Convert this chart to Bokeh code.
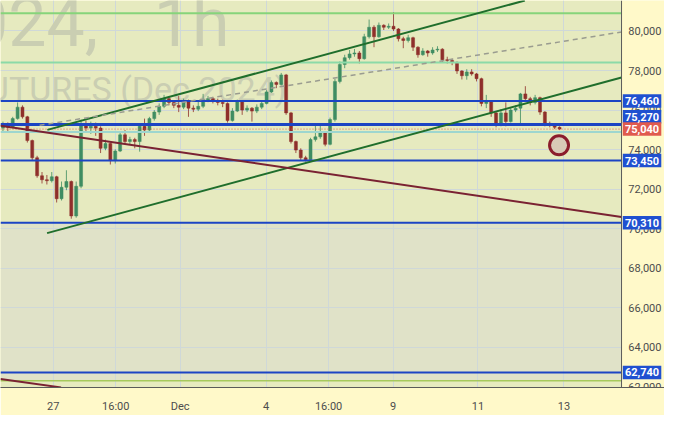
from bokeh.plotting import figure
from bokeh.models import Range1d, FixedTicker, BoxAnnotation
from bokeh.core.properties import value
from bokeh.embed import file_html
from bokeh.resources import INLINE

# ---------------- data ----------------
opens = [75090, 75280, 75130, 75570, 76150, 75660, 74460, 73590, 72680, 72480,
         72430, 72630, 71520, 72100, 72390, 70650, 72150, 75280, 75090, 75180,
         75090, 74070, 74310, 73450, 73930, 74750, 74410, 74510, 74410, 75180,
         74990, 75570, 75900, 76190, 76580, 76390, 76240, 76150, 76430, 76100,
         76050, 76190, 76530, 76580, 76480, 76390, 76340, 75470, 75950, 76430,
         76000, 76100, 75950, 76150, 76340, 76920, 77400, 77300, 77780, 75860,
         74410, 73980, 73590, 73490, 74510, 74650, 74840, 74270, 75520, 77450,
         78310, 78650, 78840, 78890, 78600, 79710, 80190, 79710, 80290, 80190,
         80240, 80100, 79610, 79520, 79660, 79180, 78800, 78990, 78890, 79040,
         79080, 78550, 78510, 78410, 77980, 77740, 77930, 77830, 77590, 76340,
         76430, 75860, 75230, 75860, 75420, 76000, 76100, 76820, 76580, 76390,
         76630, 75900, 75330, 75230, 75130]
closes = [75280, 75130, 75570, 76150, 75660, 74460, 73590, 72680, 72480, 72430,
          72630, 71520, 72100, 72390, 70650, 72150, 75280, 75090, 75180, 75090,
          74070, 74310, 73450, 73930, 74750, 74410, 74510, 74410, 75180, 74990,
          75570, 75900, 76190, 76580, 76390, 76240, 76150, 76430, 76100, 76050,
          76190, 76530, 76580, 76480, 76390, 76340, 75470, 75950, 76430, 76000,
          76100, 75950, 76150, 76340, 76920, 77400, 77300, 77780, 75860, 74410,
          73980, 73590, 73490, 74510, 74650, 74840, 74270, 75520, 77450, 78310,
          78650, 78840, 78890, 78600, 79710, 80190, 79710, 80290, 80190, 80240,
          80100, 79610, 79520, 79660, 79180, 78800, 78990, 78890, 79040, 79080,
          78550, 78510, 78410, 77980, 77740, 77930, 77830, 77590, 76340, 76430,
          75860, 75230, 75860, 75420, 76000, 76100, 76820, 76580, 76390, 76630,
          75900, 75330, 75230, 75130, 75040]
highs = [75420, 75380, 75660, 76390, 76240, 75710, 74510, 73690, 72870, 72720,
         72870, 72680, 72390, 72960, 72440, 72390, 75520, 75470, 75420, 75370,
         75180, 74510, 74360, 74020, 74890, 74990, 74650, 74600, 75280, 75570,
         75660, 76000, 76340, 76770, 76680, 76480, 76720, 76580, 76530, 76240,
         76430, 76820, 76720, 76670, 76580, 76530, 76390, 76100, 76530, 76480,
         76240, 76150, 76290, 76480, 77010, 77500, 77450, 77880, 77830, 75910,
         74460, 74070, 73690, 74600, 75280, 75280, 74940, 75620, 77590, 78460,
         78800, 79040, 79090, 78990, 79860, 80580, 80290, 80430, 80340, 80380,
         80960, 80150, 79710, 79810, 79710, 79230, 79130, 79040, 79180, 79230,
         79130, 78700, 78600, 78460, 78020, 78070, 78070, 77880, 77640, 76770,
         76480, 75910, 76050, 76390, 76150, 76240, 76870, 77210, 76670, 76770,
         76680, 75950, 75420, 75280, 75180]
lows = [74940, 74940, 75080, 75520, 75570, 74360, 73450, 72580, 72290, 72240,
        72340, 71330, 71430, 71950, 70510, 70560, 72050, 74890, 74800, 74700,
        73830, 73970, 73250, 73300, 73880, 74310, 74270, 74070, 73900, 74700,
        74890, 75470, 75760, 76100, 76240, 76100, 75900, 76050, 75660, 75900,
        75950, 76100, 76400, 76340, 76240, 76150, 75370, 75420, 75900, 75760,
        75900, 75420, 75850, 76050, 76290, 76870, 77110, 77250, 75760, 74310,
        73830, 73450, 73400, 73450, 74410, 74550, 74170, 74220, 75420, 77350,
        78120, 78550, 78700, 78360, 78550, 79620, 79180, 79660, 80050, 80100,
        80000, 79470, 79130, 79420, 78990, 78650, 78750, 78700, 78800, 78940,
        78410, 78360, 78270, 77830, 77550, 77540, 77740, 77450, 76190, 76100,
        75660, 75130, 75180, 75180, 75370, 75900, 75280, 76480, 76240, 76290,
        75760, 75180, 75130, 75040, 74990]

time_tick_pos = [10.8, 23.6, 36.8, 54.4, 67.2, 80.4, 97.8, 115.4]
time_tick_labels = ["27", "16:00", "Dec", "4", "16:00", "9", "11", "13"]
price_ticks = [62000, 64000, 66000, 68000, 70000, 72000, 74000, 76000, 78000, 80000]

blue_levels = [76460, 75270, 73450, 70310, 62740]
green_levels = [80900, 78410]
lime_level = 62320
cyan_level = 74890
last_price = 75040

# price tags shown on the scale (value, kind)
tag_values = [76460, 75270, 75040, 73450, 70310, 62740]
tag_kinds = ["level", "level", "last", "level", "level", "level"]

# trend lines: (x0, x1), (price0, price1)
channel_upper_x = [9.6, 107.4]
channel_upper_y = [75000, 81540]
channel_lower_x = [9.54, 127.2]
channel_lower_y = [69780, 77650]
median_x = [8.0, 127.2]
median_y = [75230, 79950]
down_x = [0.0, 127.2]
down_y = [75210, 70600]
down2_x = [0.0, 12.4]
down2_y = [62410, 61980]

target_x = [114.4]
target_y = [74220]

# ---------------- layout constants ----------------
X_MIN, X_PLOT, X_ALL = 0.0, 127.2, 136.0     # chart pane ends at X_PLOT, price scale beyond
Y_MIN, Y_MAX = 61976, 81542
AXIS_BG = "#fff9c9"
PANE_BG = "#e6eabf"
FONT = "Roboto"

p = figure(width=664, height=415, output_backend="svg", toolbar_location=None,
           x_range=Range1d(X_MIN, X_ALL), y_range=Range1d(Y_MIN, Y_MAX),
           y_axis_location=None,
           min_border_left=0, min_border_top=0, min_border_right=0, min_border_bottom=24,
           background_fill_color=AXIS_BG, border_fill_color=AXIS_BG)
p.outline_line_color = None

# pane backgrounds
p.add_layout(BoxAnnotation(left=X_MIN, right=X_PLOT, fill_color=PANE_BG, fill_alpha=1,
                           line_color=None, level="image"))
p.add_layout(BoxAnnotation(left=X_MIN, right=X_PLOT, bottom=lime_level, top=blue_levels[3],
                           fill_color="#e0e2c8", fill_alpha=1, line_color=None, level="image"))

# grids
p.xgrid.ticker = FixedTicker(ticks=time_tick_pos)
p.ygrid.ticker = FixedTicker(ticks=price_ticks)
p.xgrid.grid_line_color = "#cfd8d8"
p.ygrid.grid_line_color = "#cfd8d8"

# time axis
p.xaxis.ticker = FixedTicker(ticks=time_tick_pos)
p.xaxis.major_label_overrides = {pos: lab for pos, lab in zip(time_tick_pos, time_tick_labels)}
p.xaxis.axis_line_color = "#5a5a5a"
p.xaxis.major_tick_line_color = None
p.xaxis.minor_tick_line_color = None
p.xaxis.major_label_text_font = FONT
p.xaxis.major_label_text_font_size = "11px"
p.xaxis.major_label_text_color = "#4d4d4d"
p.xaxis.major_label_standoff = 6

# watermark
wm_color = "#caceb2"
p.text(x=[20.0], y=[80390], text=["RIZ2024,"], text_font=value(FONT),
       text_font_size="68px", text_color=wm_color, text_align="right", text_baseline="alphabetic")
p.text(x=[31.4], y=[80390], text=["1h"], text_font=value(FONT),
       text_font_size="68px", text_color=wm_color, text_align="left", text_baseline="alphabetic")
p.text(x=[58.6], y=[77060], text=["RTS INDEX FUTURES (Dec 2024)"], text_font=value(FONT),
       text_font_size="34px", text_color=wm_color, text_align="right", text_baseline="alphabetic")

# candles
bar_x = [i + 0.5 for i in range(len(closes))]
up_col, dn_col = "#3f8d62", "#8f2f2b"
cols = [up_col if c >= o else dn_col for o, c in zip(opens, closes)]
p.segment(x0=bar_x, x1=bar_x, y0=lows, y1=highs, line_color=cols, line_width=1, line_alpha=0.8)
p.vbar(x=bar_x, width=0.62, top=[max(o, c) for o, c in zip(opens, closes)],
       bottom=[min(o, c) for o, c in zip(opens, closes)], fill_color=cols, line_color=cols, line_width=0.5)

# horizontal levels
def hline(level, color, width, dash="solid"):
    p.segment(x0=[X_MIN], x1=[X_PLOT], y0=[level], y1=[level], line_color=color,
              line_width=width, line_dash=dash)

for lv in green_levels:
    hline(lv, "#86d47a" if lv == green_levels[0] else "#8bdaa8", 2)
hline(lime_level, "#a6c95c", 1.5)
hline(cyan_level, "#9dd6cf", 2)
for lv in blue_levels:
    hline(lv, "#1c44c4", 3 if lv == blue_levels[1] else 2)
hline(last_price, "#e05a4e", 1, "1 2")

# trend lines
p.line(channel_upper_x, channel_upper_y, line_color="#1f6e2c", line_width=2)
p.line(channel_lower_x, channel_lower_y, line_color="#1f6e2c", line_width=2)
p.line(median_x, median_y, line_color="#9a9c90", line_width=1.5, line_dash="5 4")
p.line(down_x, down_y, line_color="#7a2232", line_width=2)
p.line(down2_x, down2_y, line_color="#7a2232", line_width=2)

# target marker
p.scatter(x=target_x, y=target_y, size=19, marker="circle", fill_color="#d8c9b6",
          line_color="#8b1d2c", line_width=3)

# ---------------- price scale (right) ----------------
p.quad(left=[X_PLOT], right=[X_ALL], bottom=[Y_MIN], top=[Y_MAX], fill_color=AXIS_BG, line_color=None)
p.segment(x0=[X_PLOT], x1=[X_PLOT], y0=[Y_MIN], y1=[Y_MAX], line_color="#5a5a5a", line_width=1)
p.text(x=[X_PLOT + 1.4] * len(price_ticks), y=price_ticks, text=[f"{v:,}" for v in price_ticks],
       text_font=value(FONT), text_font_size="11px", text_color="#4d4d4d",
       text_align="left", text_baseline="middle")

# tag boxes; the 75,270 tag is nudged up by the scale to avoid the last-price tag
tag_y = [v + (400 if v == blue_levels[1] else 0) for v in tag_values]
tag_cols = ["#e05a4e" if k == "last" else "#2050d0" for k in tag_kinds]
tag_cx = X_PLOT + 0.25 + 3.95
p.rect(x=[tag_cx] * len(tag_values), y=tag_y, width=38.5, height=13.5,
       width_units="screen", height_units="screen", fill_color=tag_cols, line_color=None)
p.text(x=[tag_cx] * len(tag_values), y=tag_y, text=[f"{v:,}" for v in tag_values],
       text_font=value(FONT), text_font_size="11px", text_font_style="bold", text_color="white",
       text_align="center", text_baseline="middle")

open("out.html", "w").write(file_html(p, INLINE))
